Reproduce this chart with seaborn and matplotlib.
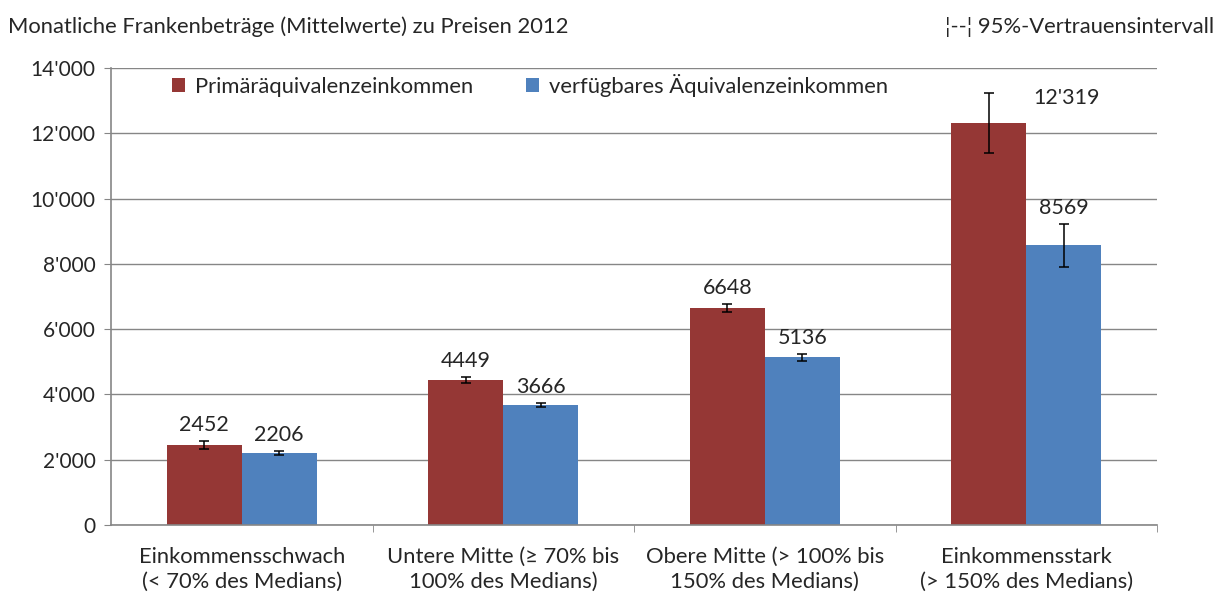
import matplotlib
matplotlib.use("Agg")
import matplotlib.pyplot as plt
import matplotlib.ticker as mticker
import seaborn as sns
import pandas as pd
import numpy as np

categories = ["Einkommensschwach\n(< 70% des Medians)",
              "Untere Mitte (≥ 70% bis\n100% des Medians)",
              "Obere Mitte (> 100% bis\n150% des Medians)",
              "Einkommensstark\n(> 150% des Medians)"]
series = ["Primäräquivalenzeinkommen", "verfügbares Äquivalenzeinkommen"]
primaer = [2452, 4449, 6648, 12319]
verfuegbar = [2206, 3666, 5136, 8569]
ci_primaer = [110, 100, 110, 920]
ci_verfuegbar = [70, 60, 100, 650]
labels_primaer = ["2452", "4449", "6648", "12'319"]
labels_verfuegbar = ["2206", "3666", "5136", "8569"]
colors = ["#953735", "#4F81BD"]

df = pd.DataFrame({
    "Kategorie": categories * 2,
    "Serie": [series[0]] * 4 + [series[1]] * 4,
    "Wert": primaer + verfuegbar,
})

sns.set_style("white")
plt.rcParams["font.family"] = ["Lato", "DejaVu Sans"]

fig = plt.figure(figsize=(12.2, 5.95), dpi=100)
ax = fig.add_axes([111 / 1220, 1 - 525 / 595, (1157 - 111) / 1220, (525 - 68) / 595])

sns.barplot(data=df, x="Kategorie", y="Wert", hue="Serie", palette=colors,
            width=0.573, errorbar=None, ax=ax, saturation=1, legend=True,
            edgecolor="none", linewidth=0)

ax.set_ylim(0, 14000)
ax.set_xlim(-0.5, 3.5)
ax.yaxis.set_major_locator(mticker.MultipleLocator(2000))
ax.yaxis.set_major_formatter(mticker.FuncFormatter(
    lambda v, p: "0" if v == 0 else f"{int(v):,}".replace(",", "'")))
ax.grid(axis="y", color="#868686", linewidth=1)
ax.set_axisbelow(True)
for s in ["top", "right"]:
    ax.spines[s].set_visible(False)
for s in ["left", "bottom"]:
    ax.spines[s].set_color("#868686")
    ax.spines[s].set_linewidth(1.2)
ax.set_xlabel("")
ax.set_ylabel("")
ax.tick_params(axis="y", length=5, color="#868686", labelsize=15, pad=6, left=True)
ax.tick_params(axis="x", length=0, labelsize=15.8, pad=16)
ax.set_xticks([0.5, 1.5, 2.5, 3.5], minor=True)
ax.tick_params(axis="x", which="minor", length=5, color="#868686", bottom=True)
for t in ax.get_xticklabels():
    t.set_linespacing(1.3)

# error bars and labels
containers = ax.containers
for cont, vals, cis, labs in [(containers[0], primaer, ci_primaer, labels_primaer),
                              (containers[1], verfuegbar, ci_verfuegbar, labels_verfuegbar)]:
    for i, (bar, v, c, lab) in enumerate(zip(cont, vals, cis, labs)):
        xc = bar.get_x() + bar.get_width() / 2
        ax.errorbar(xc, v, yerr=c, fmt="none", ecolor="black", elinewidth=1.1,
                    capsize=3.5, capthick=1.1)
        if lab == "12'319":
            ax.annotate(lab, (xc, v + c), xytext=(56, -4), textcoords="offset points",
                        ha="center", va="center", fontsize=15.5)
        else:
            ax.annotate(lab, (xc, v + c), xytext=(0, 11.5), textcoords="offset points",
                        ha="center", va="center", fontsize=15.5)

leg = ax.legend(loc="upper left", bbox_to_anchor=(0.039, 1.03), ncol=2, frameon=False,
                fontsize=15.8, handlelength=0.6, handleheight=0.6, handletextpad=0.45,
                columnspacing=2.4)

fig.text(8 / 1220, 1 - 27 / 595, "Monatliche Frankenbeträge (Mittelwerte) zu Preisen 2012",
         fontsize=15.8, ha="left", va="center")
fig.text(1214 / 1220, 1 - 27 / 595, "¦--¦ 95%-Vertrauensintervall",
         fontsize=15.8, ha="right", va="center")

fig.savefig("out.png", dpi=100)
